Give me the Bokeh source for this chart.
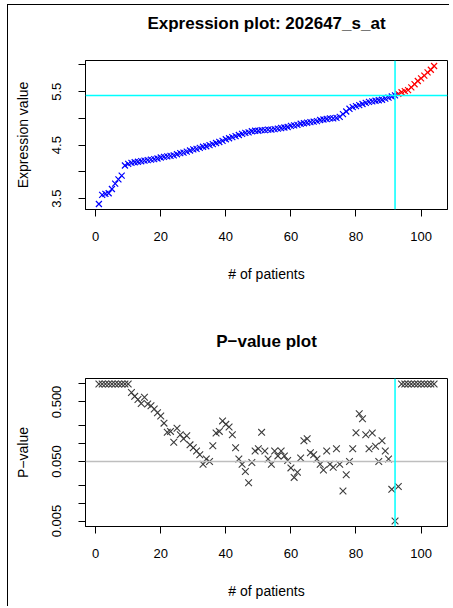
import numpy as np
from bokeh.plotting import figure
from bokeh.models import (Range1d, FixedTicker, CustomJSTickFormatter, Span, ColumnDataSource,
                          LinearAxis)
from bokeh.layouts import column
from bokeh.embed import file_html
from bokeh.resources import INLINE

# ---------------- data ----------------
patients = list(range(1, 105))

expression = [
    3.40, 3.57, 3.59, 3.60, 3.68, 3.78, 3.86, 3.93, 4.12, 4.15,
    4.17, 4.18, 4.19, 4.20, 4.21, 4.22, 4.23, 4.24, 4.25, 4.27,
    4.28, 4.29, 4.30, 4.31, 4.33, 4.35, 4.36, 4.38, 4.40, 4.42,
    4.43, 4.45, 4.47, 4.48, 4.50, 4.52, 4.54, 4.56, 4.58, 4.61,
    4.63, 4.65, 4.67, 4.69, 4.71, 4.73, 4.74, 4.76, 4.77, 4.77,
    4.78, 4.78, 4.79, 4.79, 4.80, 4.81, 4.82, 4.83, 4.84, 4.86,
    4.87, 4.88, 4.90, 4.91, 4.92, 4.93, 4.94, 4.95, 4.97, 4.98,
    4.99, 5.00, 5.00, 5.01, 5.03, 5.08, 5.13, 5.18, 5.21, 5.23,
    5.25, 5.27, 5.29, 5.31, 5.32, 5.33, 5.34, 5.35, 5.37, 5.39,
    5.41, 5.43, 5.46, 5.49, 5.51, 5.53, 5.58, 5.64, 5.70, 5.75,
    5.80, 5.86, 5.91, 5.98,
]

pvalues = [
    1, 1, 1, 1, 1, 1, 1, 1, 1, 1,
    0.72, 0.62, 0.55, 0.47, 0.60, 0.46, 0.43, 0.38, 0.33, 0.29,
    0.22, 0.155, 0.16, 0.105, 0.18, 0.14, 0.12, 0.135, 0.095, 0.085,
    0.075, 0.065, 0.045, 0.055, 0.05, 0.092, 0.15, 0.16, 0.24, 0.21,
    0.19, 0.14, 0.085, 0.055, 0.045, 0.034, 0.022, 0.048, 0.075, 0.082,
    0.154, 0.075, 0.055, 0.045, 0.075, 0.062, 0.075, 0.062, 0.052, 0.039,
    0.027, 0.033, 0.057, 0.111, 0.12, 0.07, 0.065, 0.055, 0.045, 0.036,
    0.075, 0.045, 0.04, 0.082, 0.045, 0.016, 0.03, 0.05, 0.082, 0.152,
    0.316, 0.26, 0.14, 0.082, 0.15, 0.09, 0.05, 0.111, 0.075, 0.055,
    0.017, 0.005, 0.019, 1, 1, 1, 1, 1, 1, 1,
    1, 1, 1, 1,
]

cutoff_patient = 92
p_threshold = 0.05

x_ticks = [0, 20, 40, 60, 80, 100]
expr_ticks = [3.5, 4.0, 4.5, 5.0, 5.5, 6.0]
expr_tick_labels = ["3.5", "", "4.5", "", "5.5", ""]
p_ticks = [0.005, 0.01, 0.02, 0.05, 0.1, 0.2, 0.5, 1.0]
p_tick_labels = ["0.005", "", "", "0.050", "", "", "0.500", ""]

title_top = "Expression plot: 202647_s_at"
title_bottom = "P\u2212value plot"
xlabel = "# of patients"
ylabel_top = "Expression value"
ylabel_bottom = "P\u2212value"

# ---------------- helpers ----------------
FONT = "Liberation Sans"
W = 441


def r_range(vals):
    lo, hi = min(vals), max(vals)
    d = 0.04 * (hi - lo)
    return lo - d, hi + d


def style(p, ylab):
    p.outline_line_color = "black"
    p.outline_line_width = 1
    p.background_fill_color = "white"
    p.border_fill_color = "white"
    p.xgrid.visible = False
    p.ygrid.visible = False
    p.title.standoff = 0
    for ax in (p.xaxis[0], p.yaxis[0]):
        ax.axis_line_color = "black"
        ax.major_tick_line_color = "black"
        ax.major_tick_out = 7
        ax.major_tick_in = 0
        ax.minor_tick_line_color = None
        ax.major_label_text_font = FONT
        ax.major_label_text_font_size = "13px"
        ax.major_label_text_color = "black"
        ax.axis_label_text_font = FONT
        ax.axis_label_text_font_size = "14px"
        ax.axis_label_text_font_style = "normal"
        ax.axis_label_text_color = "black"
    p.xaxis[0].ticker = FixedTicker(ticks=x_ticks)
    p.xaxis[0].axis_label = xlabel
    p.xaxis[0].major_label_standoff = 15
    p.xaxis[0].axis_label_standoff = 22
    p.yaxis[0].axis_label = ylab
    p.yaxis[0].major_label_orientation = "vertical"
    p.yaxis[0].major_label_standoff = 17
    p.yaxis[0].axis_label_standoff = 19


def add_title(p, text):
    t = LinearAxis(axis_label=text, ticker=FixedTicker(ticks=[]),
                   axis_line_color=None, major_tick_line_color=None, minor_tick_line_color=None,
                   major_label_text_font_size="0px", major_label_standoff=0,
                   major_tick_out=0, major_tick_in=0,
                   axis_label_standoff=28, axis_label_text_font=FONT,
                   axis_label_text_font_size="17px", axis_label_text_font_style="bold",
                   axis_label_text_color="black")
    p.add_layout(t, "above")


fmt_code = """
let best = -1;
for (let i = 0; i < vals.length; i++) {
  if (Math.abs(vals[i] - tick) <= 1e-9 * Math.max(1, Math.abs(tick))) { best = i; }
}
return best >= 0 ? labs[best] : "";
"""

xr = r_range(patients)

# ---------------- top: expression ----------------
yr = r_range(expression)
p1 = figure(width=W, height=305, output_backend="svg", toolbar_location=None,
            x_range=Range1d(*xr), y_range=Range1d(*yr),
            min_border_left=77, min_border_right=2, min_border_top=55, min_border_bottom=101)
style(p1, ylabel_top)
add_title(p1, title_top)
p1.yaxis[0].ticker = FixedTicker(ticks=expr_ticks)
p1.yaxis[0].formatter = CustomJSTickFormatter(args=dict(vals=expr_ticks, labs=expr_tick_labels), code=fmt_code)

colors = ["#0000ff" if x <= cutoff_patient else "#ff0000" for x in patients]
src1 = ColumnDataSource(dict(x=patients, y=expression, c=colors))
p1.scatter("x", "y", source=src1, marker="x", size=8.5, line_color="c", line_width=1.2)

cut_expr = expression[patients.index(cutoff_patient)]
p1.add_layout(Span(location=cutoff_patient, dimension="height", line_color="#00ffff", line_width=1.5))
p1.add_layout(Span(location=cut_expr, dimension="width", line_color="#00ffff", line_width=1.5))

# ---------------- bottom: p-values ----------------
lp = np.log10(pvalues)
llo, lhi = r_range(list(lp))
p2 = figure(width=W, height=296, output_backend="svg", toolbar_location=None,
            x_range=Range1d(*xr), y_range=Range1d(10 ** llo, 10 ** lhi), y_axis_type="log",
            min_border_left=77, min_border_right=2, min_border_top=68, min_border_bottom=80)
style(p2, ylabel_bottom)
add_title(p2, title_bottom)
p2.yaxis[0].ticker = FixedTicker(ticks=p_ticks)
p2.yaxis[0].formatter = CustomJSTickFormatter(args=dict(vals=p_ticks, labs=p_tick_labels), code=fmt_code)

p2.add_layout(Span(location=p_threshold, dimension="width", line_color="#bebebe", line_width=1.5))
p2.add_layout(Span(location=cutoff_patient, dimension="height", line_color="#00ffff", line_width=1.5))
src2 = ColumnDataSource(dict(x=patients, y=pvalues))
p2.scatter("x", "y", source=src2, marker="x", size=9.5, line_color="#3c3c3c", line_width=1.1)

layout = column(p1, p2, spacing=0,
                styles={"border-left": "1px solid black", "border-top": "1px solid black",
                        "margin-left": "7px", "margin-top": "4px"})

html = file_html(layout, INLINE)
open("out.html", "w").write(html)
